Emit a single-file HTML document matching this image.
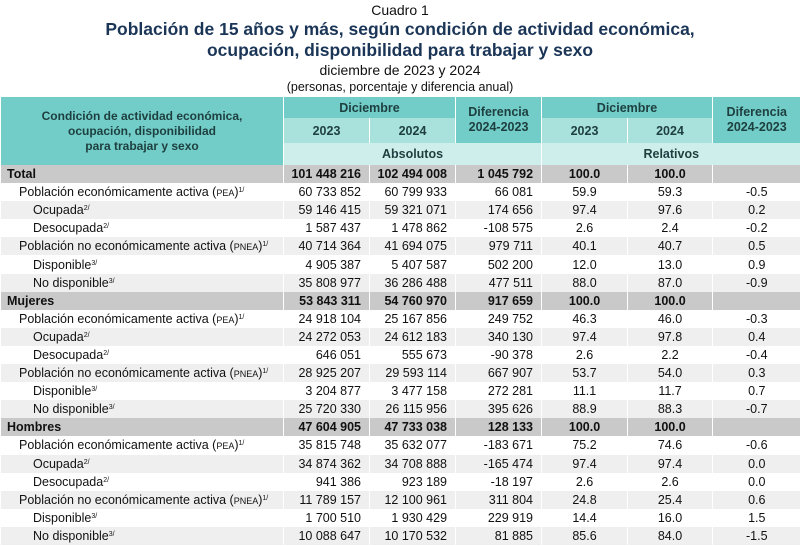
<!DOCTYPE html>
<html><head><meta charset="utf-8"><style>
*{margin:0;padding:0;box-sizing:border-box}
body{width:800px;height:546px;background:#fff;font-family:"Liberation Sans",Arial,sans-serif;color:#111;overflow:hidden;position:relative}
.t{position:absolute;left:0;width:800px;text-align:center}
table{position:absolute;left:0;top:97px;width:800px;border-collapse:collapse;table-layout:fixed;font-size:12.5px}
td{height:18.1px;padding:0 6px;white-space:nowrap;line-height:14px;border-left:1px solid #fff;overflow:hidden}
td.n{text-align:right;padding-right:8px}
td.c{text-align:center}
tr.g td{background:#c9c9c9;font-weight:bold}
tr.l td{background:#efefef}
tr.w td{background:#fff}
.h1{background:#72ccc7;font-weight:bold;color:#1d3f3f;text-align:center;height:21px}
.h2{background:#a9e1dc;font-weight:bold;color:#1d3f3f;text-align:center;height:25px}
.h3{background:#cdeeea;font-weight:bold;color:#1d3f3f;text-align:center;height:22px}
.in1{padding-left:18px}.in2{padding-left:32px}
sup{font-size:7px;vertical-align:top;line-height:0;position:relative;top:6px}
small{font-size:9px;line-height:0}
</style></head><body>
<div class="t" style="top:2px;font-size:14px">Cuadro 1</div>
<div class="t" style="top:19px;font-size:17.5px;font-weight:bold;color:#1b3557;line-height:21px">Población de 15 años y más, según condición de actividad económica,<br>ocupación, disponibilidad para trabajar y sexo</div>
<div class="t" style="top:62px;font-size:14px">diciembre de 2023 y 2024</div>
<div class="t" style="top:80px;font-size:12.5px">(personas, porcentaje y diferencia anual)</div>
<table>
<colgroup><col style="width:283px"><col style="width:86px"><col style="width:86px"><col style="width:86px"><col style="width:86px"><col style="width:85px"><col style="width:88px"></colgroup>
<tr><td rowspan="3" class="h1" style="line-height:15px;font-size:12px">Condición de actividad económica,<br>ocupación, disponibilidad<br>para trabajar y sexo</td><td colspan="2" class="h1">Diciembre</td><td rowspan="2" class="h1" style="line-height:15px">Diferencia<br>2024-2023</td><td colspan="2" class="h1">Diciembre</td><td rowspan="2" class="h1" style="line-height:15px">Diferencia<br>2024-2023</td></tr>
<tr><td class="h2">2023</td><td class="h2">2024</td><td class="h2">2023</td><td class="h2">2024</td></tr>
<tr><td class="h3" colspan="3">Absolutos</td><td class="h3" colspan="3">Relativos</td></tr>
<tr class="g"><td>Total</td><td class="n">101 448 216</td><td class="n">102 494 008</td><td class="n">1 045 792</td><td class="c">100.0</td><td class="c">100.0</td><td></td></tr>
<tr class="w"><td class="in1">Población económicamente activa (<small>PEA</small>)<sup>1/</sup></td><td class="n">60 733 852</td><td class="n">60 799 933</td><td class="n">66 081</td><td class="c">59.9</td><td class="c">59.3</td><td class="c">-0.5</td></tr>
<tr class="l"><td class="in2">Ocupada<sup>2/</sup></td><td class="n">59 146 415</td><td class="n">59 321 071</td><td class="n">174 656</td><td class="c">97.4</td><td class="c">97.6</td><td class="c">0.2</td></tr>
<tr class="w"><td class="in2">Desocupada<sup>2/</sup></td><td class="n">1 587 437</td><td class="n">1 478 862</td><td class="n">-108 575</td><td class="c">2.6</td><td class="c">2.4</td><td class="c">-0.2</td></tr>
<tr class="l"><td class="in1">Población no económicamente activa (<small>PNEA</small>)<sup>1/</sup></td><td class="n">40 714 364</td><td class="n">41 694 075</td><td class="n">979 711</td><td class="c">40.1</td><td class="c">40.7</td><td class="c">0.5</td></tr>
<tr class="w"><td class="in2">Disponible<sup>3/</sup></td><td class="n">4 905 387</td><td class="n">5 407 587</td><td class="n">502 200</td><td class="c">12.0</td><td class="c">13.0</td><td class="c">0.9</td></tr>
<tr class="l"><td class="in2">No disponible<sup>3/</sup></td><td class="n">35 808 977</td><td class="n">36 286 488</td><td class="n">477 511</td><td class="c">88.0</td><td class="c">87.0</td><td class="c">-0.9</td></tr>
<tr class="g"><td>Mujeres</td><td class="n">53 843 311</td><td class="n">54 760 970</td><td class="n">917 659</td><td class="c">100.0</td><td class="c">100.0</td><td></td></tr>
<tr class="w"><td class="in1">Población económicamente activa (<small>PEA</small>)<sup>1/</sup></td><td class="n">24 918 104</td><td class="n">25 167 856</td><td class="n">249 752</td><td class="c">46.3</td><td class="c">46.0</td><td class="c">-0.3</td></tr>
<tr class="l"><td class="in2">Ocupada<sup>2/</sup></td><td class="n">24 272 053</td><td class="n">24 612 183</td><td class="n">340 130</td><td class="c">97.4</td><td class="c">97.8</td><td class="c">0.4</td></tr>
<tr class="w"><td class="in2">Desocupada<sup>2/</sup></td><td class="n">646 051</td><td class="n">555 673</td><td class="n">-90 378</td><td class="c">2.6</td><td class="c">2.2</td><td class="c">-0.4</td></tr>
<tr class="l"><td class="in1">Población no económicamente activa (<small>PNEA</small>)<sup>1/</sup></td><td class="n">28 925 207</td><td class="n">29 593 114</td><td class="n">667 907</td><td class="c">53.7</td><td class="c">54.0</td><td class="c">0.3</td></tr>
<tr class="w"><td class="in2">Disponible<sup>3/</sup></td><td class="n">3 204 877</td><td class="n">3 477 158</td><td class="n">272 281</td><td class="c">11.1</td><td class="c">11.7</td><td class="c">0.7</td></tr>
<tr class="l"><td class="in2">No disponible<sup>3/</sup></td><td class="n">25 720 330</td><td class="n">26 115 956</td><td class="n">395 626</td><td class="c">88.9</td><td class="c">88.3</td><td class="c">-0.7</td></tr>
<tr class="g"><td>Hombres</td><td class="n">47 604 905</td><td class="n">47 733 038</td><td class="n">128 133</td><td class="c">100.0</td><td class="c">100.0</td><td></td></tr>
<tr class="w"><td class="in1">Población económicamente activa (<small>PEA</small>)<sup>1/</sup></td><td class="n">35 815 748</td><td class="n">35 632 077</td><td class="n">-183 671</td><td class="c">75.2</td><td class="c">74.6</td><td class="c">-0.6</td></tr>
<tr class="l"><td class="in2">Ocupada<sup>2/</sup></td><td class="n">34 874 362</td><td class="n">34 708 888</td><td class="n">-165 474</td><td class="c">97.4</td><td class="c">97.4</td><td class="c">0.0</td></tr>
<tr class="w"><td class="in2">Desocupada<sup>2/</sup></td><td class="n">941 386</td><td class="n">923 189</td><td class="n">-18 197</td><td class="c">2.6</td><td class="c">2.6</td><td class="c">0.0</td></tr>
<tr class="l"><td class="in1">Población no económicamente activa (<small>PNEA</small>)<sup>1/</sup></td><td class="n">11 789 157</td><td class="n">12 100 961</td><td class="n">311 804</td><td class="c">24.8</td><td class="c">25.4</td><td class="c">0.6</td></tr>
<tr class="w"><td class="in2">Disponible<sup>3/</sup></td><td class="n">1 700 510</td><td class="n">1 930 429</td><td class="n">229 919</td><td class="c">14.4</td><td class="c">16.0</td><td class="c">1.5</td></tr>
<tr class="l"><td class="in2">No disponible<sup>3/</sup></td><td class="n">10 088 647</td><td class="n">10 170 532</td><td class="n">81 885</td><td class="c">85.6</td><td class="c">84.0</td><td class="c">-1.5</td></tr>
</table>
</body></html>
